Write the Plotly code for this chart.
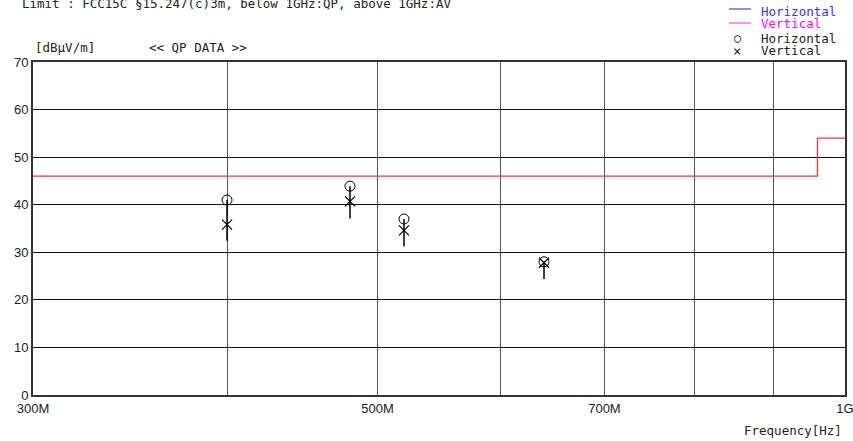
import plotly.graph_objects as go

# ---- data ----
freq_mhz = [400, 480, 520, 640]
qp_horizontal = [41.0, 43.9, 37.0, 28.0]
qp_vertical = [35.8, 40.7, 34.6, 27.8]
bar_low = [32.4, 37.1, 31.2, 24.4]

limit_freq_mhz = [300, 960, 960, 1000]
limit_level = [46, 46, 54, 54]

x_tickvals_mhz = [300, 400, 500, 600, 700, 800, 900, 1000]
x_ticktext = ["300M", "", "500M", "", "700M", "", "", "1G"]
y_tickvals = [0, 10, 20, 30, 40, 50, 60, 70]

MONO = "DejaVu Sans Mono"

fig = go.Figure()

# limit line
fig.add_trace(go.Scatter(
    x=[f * 1e6 for f in limit_freq_mhz], y=limit_level, mode="lines",
    line=dict(color="#ff3030", width=1.3), hoverinfo="skip", showlegend=False))

# drop bars
bx, by = [], []
for f, h, lo in zip(freq_mhz, qp_horizontal, bar_low):
    bx += [f * 1e6, f * 1e6, None]
    by += [h, lo, None]
fig.add_trace(go.Scatter(x=bx, y=by, mode="lines",
                         line=dict(color="black", width=1.5),
                         showlegend=False, hoverinfo="skip"))

fig.add_trace(go.Scatter(
    x=[f * 1e6 for f in freq_mhz], y=qp_horizontal, mode="markers",
    marker=dict(symbol="circle-open", size=10, color="black", line=dict(width=1)),
    showlegend=False))
fig.add_trace(go.Scatter(
    x=[f * 1e6 for f in freq_mhz], y=qp_vertical, mode="markers",
    marker=dict(symbol="x-thin-open", size=10, color="black", line=dict(width=1.2)),
    showlegend=False))

def px(x):
    return (x - 33) / 812

def py(y):
    return (395 - y) / 333

ann = []
ann.append(dict(text="Limit : FCC15C §15.247(c)3m, below 1GHz:QP, above 1GHz:AV",
                x=px(20), y=py(3), xanchor="left", yanchor="middle",
                font=dict(family=MONO, size=12.5, color="#222")))
ann.append(dict(text="[dBµV/m]", x=px(33), y=py(47), xanchor="left", yanchor="middle",
                font=dict(family=MONO, size=12.5, color="#222")))
ann.append(dict(text="&lt;&lt; QP DATA &gt;&gt;", x=px(147), y=py(47), xanchor="left",
                yanchor="middle", font=dict(family=MONO, size=12.5, color="#222")))
ann.append(dict(text="Frequency[Hz]", x=px(844), y=py(430), xanchor="right",
                yanchor="middle", font=dict(family=MONO, size=12.5, color="#222")))

legend_rows = [("Horizontal", "#3333ff", 11), ("Vertical", "#ff00ff", 24),
               ("Horizontal", "#222", 38), ("Vertical", "#222", 51)]
for t, c, yy in legend_rows:
    ann.append(dict(text=t, x=px(759), y=py(yy), xanchor="left", yanchor="middle",
                    font=dict(family=MONO, size=12.5, color=c)))
ann.append(dict(text="○", x=px(737), y=py(38), xanchor="center", yanchor="middle",
                font=dict(family=MONO, size=12, color="#222")))
ann.append(dict(text="×", x=px(737), y=py(51), xanchor="center", yanchor="middle",
                font=dict(family=MONO, size=14, color="#222")))
for a in ann:
    a.update(xref="paper", yref="paper", showarrow=False)

shapes = [
    dict(type="line", xref="paper", yref="paper", x0=px(729), x1=px(751),
         y0=py(9), y1=py(9), line=dict(color="#4444ff", width=1.2)),
    dict(type="line", xref="paper", yref="paper", x0=px(729), x1=px(751),
         y0=py(23), y1=py(23), line=dict(color="#ff44ff", width=1.2)),
]

fig.update_layout(
    width=853, height=441,
    margin=dict(l=33, r=8, t=62, b=46),
    paper_bgcolor="white", plot_bgcolor="white",
    annotations=ann, shapes=shapes,
    showlegend=False,
    xaxis=dict(type="log", range=[8.47712125, 9.0], automargin=False,
               tickvals=[v * 1e6 for v in x_tickvals_mhz], ticktext=x_ticktext,
               ticklabeloverflow="allow",
               showgrid=True, gridcolor="#555", gridwidth=1,
               showline=True, linecolor="#333", linewidth=2, mirror=True,
               zeroline=False, ticks="",
               tickfont=dict(family="Liberation Sans", size=13, color="#222")),
    yaxis=dict(range=[0, 70], tickvals=y_tickvals, automargin=False,
               ticklabeloverflow="allow",
               showgrid=True, gridcolor="#111", gridwidth=1,
               showline=True, linecolor="#333", linewidth=2, mirror=True,
               zeroline=False, ticks="",
               tickfont=dict(family="Liberation Sans", size=13, color="#222")),
)

fig.write_html("out.html", config={"displayModeBar": False},
               post_script="document.body.style.margin='0';document.body.style.overflow='hidden';")
